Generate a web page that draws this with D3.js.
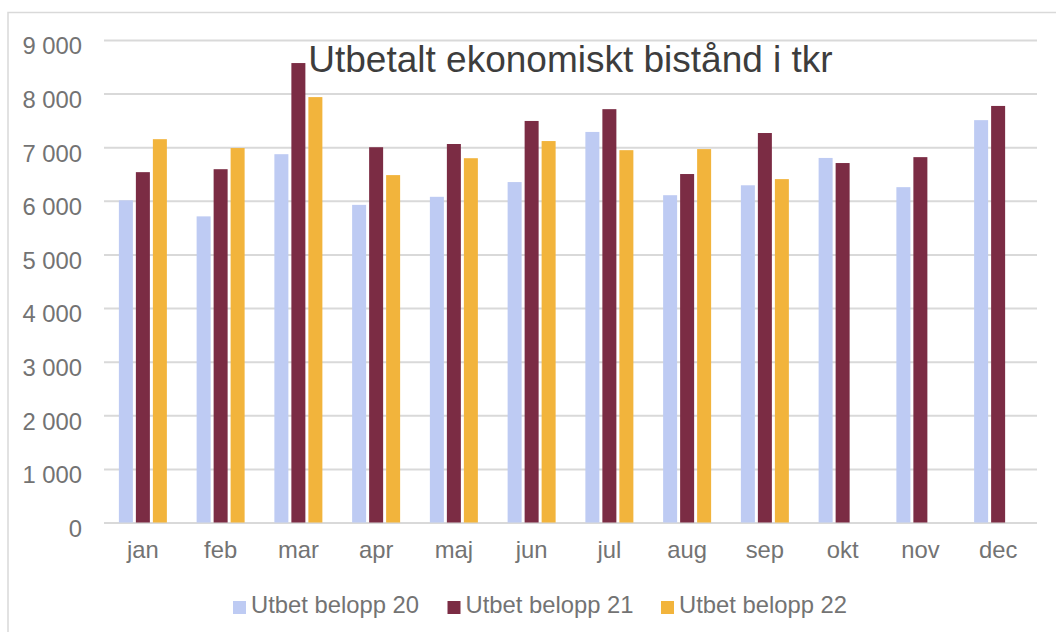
<!DOCTYPE html>
<html><head><meta charset="utf-8">
<script src="https://cdn.jsdelivr.net/npm/d3@7"></script>
<style>
html,body{margin:0;padding:0;background:#fff;}
svg{display:block;font-family:"Liberation Sans",Arial,sans-serif;}
</style></head>
<body>
<svg id="chart" width="1056" height="632"></svg>
<script>
const title = "Utbetalt ekonomiskt bistånd i tkr";
const months = ["jan","feb","mar","apr","maj","jun","jul","aug","sep","okt","nov","dec"];
const seriesNames = ["Utbet belopp 20","Utbet belopp 21","Utbet belopp 22"];
const belopp20 = [6010,5710,6870,5925,6075,6350,7285,6105,6290,6800,6255,7505];
const belopp21 = [6535,6590,8570,7000,7060,7490,7710,6500,7265,6705,6815,7770];
const belopp22 = [7150,6985,7935,6480,6795,7115,6945,6965,6405,null,null,null];
const yTicks = [0,1000,2000,3000,4000,5000,6000,7000,8000,9000];
const colors = ["#BECBF3","#7B2C44","#F2B43C"];

(function(){
const svg = d3.select("#chart");
const pL = 104, pR = 1037, pT = 40, pB = 522.5;
const fs = 23.8;

// frame
svg.append("rect").attr("x",8).attr("y",12.5).attr("width",1100).attr("height",700)
  .attr("fill","#fff").attr("stroke","#d9d9d9").attr("stroke-width",1.5);

const y = d3.scaleLinear().domain([0,9000]).range([pB, pT]);
const x0 = d3.scaleBand().domain(months).range([pL,pR]).paddingInner(1-48/77.75).paddingOuter((1-48/77.75)/2);
const x1 = d3.scaleBand().domain(seriesNames).range([0,x0.bandwidth()]).paddingInner(3/17).paddingOuter(0);

const loc = d3.formatLocale({decimal:",",thousands:" ",grouping:[3],currency:["","kr"]});
const fmt = loc.format(",d");

// grid + y labels
const yAxis = d3.axisLeft(y).tickValues(yTicks).tickSize(-(pR-pL)).tickPadding(22).tickFormat(fmt);
const gy = svg.append("g").attr("transform",`translate(${pL},0)`).call(yAxis);
gy.select(".domain").remove();
gy.selectAll(".tick line").attr("stroke","#d9d9d9").attr("stroke-width",2);
gy.selectAll(".tick text").attr("fill","#737373").attr("font-size",fs)
  .attr("font-family","'Liberation Sans',Arial,sans-serif").attr("dy","0.58em").attr("x",-22);

// x axis labels
const xAxis = d3.axisBottom(x0).tickSize(0).tickPadding(19);
const gx = svg.append("g").attr("transform",`translate(0,${pB})`).call(xAxis);
gx.select(".domain").remove();
gx.selectAll(".tick text").attr("fill","#737373").attr("font-size",fs)
  .attr("font-family","'Liberation Sans',Arial,sans-serif");

// bars
const data = [belopp20, belopp21, belopp22];
const groups = svg.append("g").selectAll("g").data(months).join("g")
  .attr("transform", m => `translate(${x0(m)},0)`);
groups.selectAll("rect")
  .data((m,i) => seriesNames.map((s,k) => ({s, v: data[k][i], c: colors[k]})).filter(d => d.v != null))
  .join("rect")
  .attr("x", d => x1(d.s))
  .attr("width", x1.bandwidth())
  .attr("y", d => y(d.v))
  .attr("height", d => y(0) - y(d.v))
  .attr("fill", d => d.c);

// title
svg.append("text").attr("x",(pL+pR)/2).attr("y",72).attr("text-anchor","middle")
  .attr("font-size",37).attr("fill","#3d3d3d").text(title);

// legend
const legendX = [233, 447.5, 661];
const lg = svg.append("g").selectAll("g").data(seriesNames).join("g")
  .attr("transform",(d,i)=>`translate(${legendX[i]},601)`);
lg.append("rect").attr("width",13).attr("height",13).attr("fill",(d,i)=>colors[i]);
lg.append("text").attr("x",18).attr("y",11.5).attr("font-size",fs).attr("fill","#737373").text(d=>d);
})();
</script>
</body></html>
